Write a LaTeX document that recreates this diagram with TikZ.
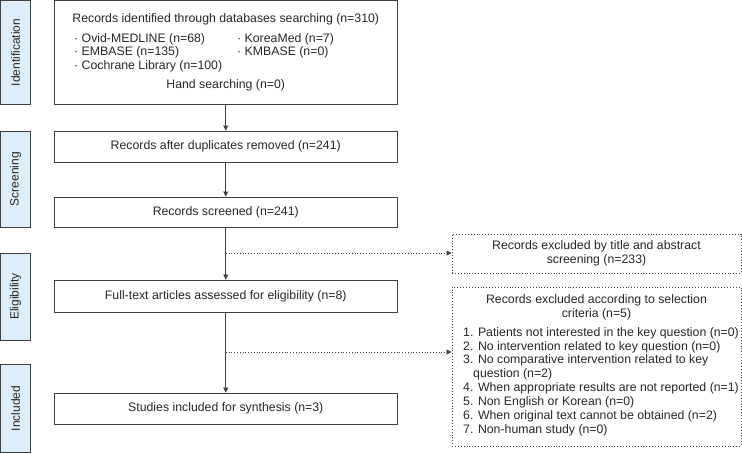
\documentclass[tikz,border=0pt]{standalone}
\usepackage{fontspec}
\setmainfont{Liberation Sans}
\usetikzlibrary{arrows.meta}
\definecolor{sideblue}{HTML}{DDEDF9}
\definecolor{lineGray}{HTML}{3F3F3F}
\tikzset{
  sidebox/.style={draw=lineGray,fill=sideblue,line width=0.9pt,rotate=90,inner sep=0pt,font=\fontsize{12}{13}\selectfont,text=black!85},
  mainbox/.style={draw=lineGray,line width=0.9pt,minimum width=342.5pt,inner sep=0pt},
  exbox/.style={draw=lineGray,dotted,line width=0.9pt,minimum width=289pt,inner sep=0pt},
  txt/.style={inner sep=0pt,font=\fontsize{12.3}{13.9}\selectfont,text=black!85},
  arr/.style={draw=lineGray,line width=0.8pt,-{Triangle[length=5pt,width=5pt]}},
  darr/.style={arr,dotted}
}
\begin{document}
\begin{tikzpicture}[x=1pt,y=-1pt]
\useasboundingbox (0,0) rectangle (742,453);

%stage labels
\node[sidebox,minimum width=104pt,minimum height=30pt] (sIdent) at (15.5,52.5) {Identification};
\node[sidebox,minimum width=96pt,minimum height=30pt] (sScreen) at (15.5,179) {Screening};
\node[sidebox,minimum width=87pt,minimum height=30pt] (sElig) at (15.5,296.5) {Eligibility};
\node[sidebox,minimum width=88pt,minimum height=30pt] (sIncl) at (15.5,408.5) {Included};

\node[mainbox,minimum height=104pt] (cIdent) at (225.75,52.75) {};
\node[txt] (tIdent) at (225.75,19) {Records identified through databases searching (n=310)};
\node[txt,anchor=west] (tOvid) at (74,39) {·\ Ovid-MEDLINE (n=68)};
\node[txt,anchor=west] (tEmb) at (74,52.5) {·\ EMBASE (n=135)};
\node[txt,anchor=west] (tCoch) at (74,66) {·\ Cochrane Library (n=100)};
\node[txt,anchor=west] (tKor) at (237,39) {·\ KoreaMed (n=7)};
\node[txt,anchor=west] (tKmb) at (237,52.5) {·\ KMBASE (n=0)};
\node[txt] (tHand) at (225.75,85) {Hand searching (n=0)};

\node[mainbox,minimum height=31pt] (cDup) at (225.75,146.5) {};
\node[txt] at (cDup) {Records after duplicates removed (n=241)};
\node[mainbox,minimum height=30pt] (cScr) at (225.75,212) {};
\node[txt] at (cScr) {Records screened (n=241)};
\node[mainbox,minimum height=32pt] (cFull) at (225.75,296) {};
\node[txt] at (cFull) {Full-text articles assessed for eligibility (n=8)};
\node[mainbox,minimum height=31pt] (cStud) at (225.75,408.5) {};
\node[txt] at (cStud) {Studies included for synthesis (n=3)};

\node[exbox,minimum height=39pt] (cExA) at (596.5,253.5) {};
\node[txt,align=center] at (cExA) {Records excluded by title and abstract\\screening (n=233)};
\node[exbox,minimum height=159pt] (cExB) at (596.5,366.5) {};
\node[txt,align=center] (tExB) at (596.5,307.5) {Records excluded according to selection\\criteria (n=5)};
\node[txt,align=left,anchor=north west] (tList) at (463,327) {1. Patients not interested in the key question (n=0)\\
2. No intervention related to key question (n=0)\\
3. No comparative intervention related to key\\
\hspace*{10pt}question (n=2)\\
4. When appropriate results are not reported (n=1)\\
5. Non English or Korean (n=0)\\
6. When original text cannot be obtained (n=2)\\
7. Non-human study (n=0)};

\draw[arr] (cIdent) -- (cDup);
\draw[arr] (cDup) -- (cScr);
\draw[arr] (cScr) -- (cFull);
\draw[arr] (cFull) -- (cStud);

%side exits
\coordinate (cPtA) at (225.75,253);
\coordinate (cPtB) at (225.75,352);
\draw[darr] (cPtA) -- (cExA.west |- cPtA);
\draw[darr] (cPtB) -- (cExB.west |- cPtB);
\end{tikzpicture}
\end{document}
